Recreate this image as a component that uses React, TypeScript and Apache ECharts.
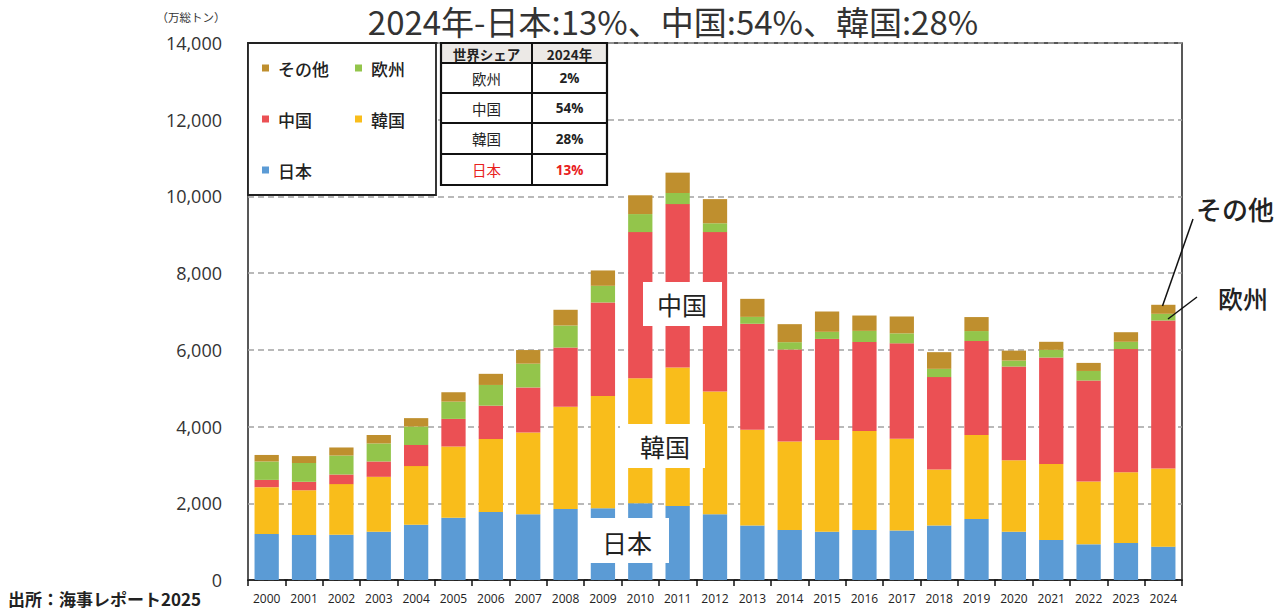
import React, { useEffect, useRef } from 'react';
import * as echarts from 'echarts';

const years = ['2000','2001','2002','2003','2004','2005','2006','2007','2008','2009','2010','2011','2012','2013','2014','2015','2016','2017','2018','2019','2020','2021','2022','2023','2024'];
const japan = [1200,1170,1180,1260,1440,1620,1775,1715,1850,1870,2000,1930,1715,1420,1305,1260,1305,1290,1420,1590,1260,1045,930,965,870];
const korea = [1220,1170,1320,1430,1530,1860,1900,2130,2670,2930,3260,3610,3200,2500,2305,2390,2580,2390,1460,2190,1860,1980,1635,1845,2035];
const china = [190,220,250,400,550,720,870,1175,1540,2435,3810,4260,4155,2760,2400,2635,2320,2490,2410,2450,2445,2775,2635,3210,3860];
const europe = [480,490,495,470,480,450,540,620,575,435,470,290,230,180,190,185,290,260,215,260,155,200,250,190,175];
const other = [170,180,210,220,220,245,290,355,410,400,490,530,630,470,470,530,400,440,435,365,260,210,210,250,235];

const seriesNames = ['日本', '韓国', '中国', '欧州', 'その他'];
const seriesColors = ['#5b9bd5', '#f9bd1b', '#eb5054', '#93c54b', '#bf8f2e'];
const seriesData = [japan, korea, china, europe, other];

const titleText = '2024年-日本:13%、中国:54%、韓国:28%';
const unitText = '（万総トン）';
const sourceText = '出所：海事レポート2025';

const shareRegions = ['欧州', '中国', '韓国', '日本'];
const shareValues = ['2%', '54%', '28%', '13%'];

const FONT = '"Noto Sans CJK JP", "Noto Sans", sans-serif';
const NUMFONT = '"Open Sans", "Noto Sans", sans-serif';

function txt(text: string, x: number, y: number, size: number, opts: any = {}) {
  return {
    type: 'text', x, y, z: 100, silent: true,
    style: {
      text, fill: opts.fill || '#222', fontSize: size, fontFamily: opts.family || FONT,
      fontWeight: opts.weight || 'normal',
      align: opts.align || 'center', textAlign: opts.align || 'center',
      verticalAlign: 'middle', textVerticalAlign: 'middle',
    },
  };
}
function rect(x: number, y: number, w: number, h: number, fill: string, stroke?: string, lw = 0) {
  return {
    type: 'rect', z: 99, silent: true,
    shape: { x, y, width: w, height: h },
    style: { fill, stroke: stroke || 'none', lineWidth: lw },
  };
}
function line(x1: number, y1: number, x2: number, y2: number, lw = 1.5) {
  return { type: 'line', z: 101, silent: true, shape: { x1, y1, x2, y2 }, style: { stroke: '#111', lineWidth: lw } };
}

function buildGraphic() {
  const g: any[] = [];
  g.push(txt(titleText, 673, 21, 33, { fill: '#333' }));
  g.push(txt(unitText, 191, 17, 11.5, { fill: '#333' }));
  g.push(txt(sourceText, 8, 598, 17, { align: 'left', weight: 'bold', fill: '#222' }));

  // legend box
  g.push(rect(248, 43, 188, 152, '#fff', '#222', 1.8));
  const legendItems = [
    { name: 'その他', x: 262, y: 68 },
    { name: '欧州', x: 355, y: 68 },
    { name: '中国', x: 262, y: 119 },
    { name: '韓国', x: 355, y: 119 },
    { name: '日本', x: 262, y: 170 },
  ];
  legendItems.forEach((it) => {
    const idx = seriesNames.indexOf(it.name);
    g.push({ ...rect(it.x, it.y - 3.5, 7, 7, seriesColors[idx]), z: 101 });
    g.push(txt(it.name, it.x + 16, it.y, 17, { align: 'left', weight: 500 }));
  });

  // share table
  const tx = 441, c1 = 532, tr = 607;
  const rowsY = [43, 63, 93, 123, 154, 185];
  g.push(rect(tx, rowsY[0], tr - tx, rowsY[1] - rowsY[0], '#ece9e6'));
  g.push(rect(tx, rowsY[1], tr - tx, rowsY[5] - rowsY[1], '#fff'));
  g.push({ ...rect(tx, 43, tr - tx, 185 - 43, 'none', '#111', 2.2), z: 102 });
  for (let i = 1; i < 5; i++) g.push({ ...line(tx, rowsY[i], tr, rowsY[i], 2), z: 102 });
  g.push({ ...line(c1, 43, c1, 185, 2), z: 102 });
  g.push(txt('世界シェア', (tx + c1) / 2, 53.5, 13.5, { weight: 'bold' }));
  g.push(txt('2024年', (c1 + tr) / 2, 53.5, 13.5, { weight: 'bold' }));
  shareRegions.forEach((r, i) => {
    const cy = (rowsY[i + 1] + rowsY[i + 2]) / 2;
    const fill = r === '日本' ? '#e8201c' : '#222';
    g.push(txt(r, (tx + c1) / 2, cy, 14.5, { fill }));
    g.push(txt(shareValues[i], (c1 + tr) / 2, cy, 13.5, { fill, weight: 'bold', family: NUMFONT }));
  });

  // in-chart labels with white boxes
  g.push(rect(643, 282, 79, 44, '#fff'));
  g.push(txt('中国', 682, 304, 25, { fill: '#222' }));
  g.push(rect(620, 424, 85, 44, '#fff'));
  g.push(txt('韓国', 665, 446, 25, { fill: '#222' }));
  g.push(rect(588, 518, 81, 45, '#fff'));
  g.push(txt('日本', 627, 542, 25, { fill: '#222' }));

  // right annotations
  g.push(txt('その他', 1235, 208, 26, { fill: '#222', weight: 500 }));
  g.push(line(1162.5, 306, 1193, 219));
  g.push(txt('欧州', 1243, 298, 25, { fill: '#222', weight: 500 }));
  g.push(line(1168, 319, 1197, 297));
  return g;
}

export default function App() {
  const ref = useRef<HTMLDivElement>(null);
  useEffect(() => {
    const chart = echarts.init(ref.current!, null, { renderer: 'svg' });
    chart.setOption({
      animation: false,
      backgroundColor: '#fff',
      grid: { left: 248, right: 99, top: 43, bottom: 31, show: true, borderColor: '#222', borderWidth: 1.5, backgroundColor: 'transparent' },
      xAxis: {
        type: 'category',
        data: years,
        axisLine: { show: true, lineStyle: { color: '#111', width: 1.5 } },
        axisTick: { show: true, interval: 0, length: 6, lineStyle: { color: '#111', width: 1.5 } },
        axisLabel: { interval: 0, fontSize: 12, color: '#222', fontFamily: NUMFONT, margin: 12 },
      },
      yAxis: {
        type: 'value',
        min: 0,
        max: 14000,
        interval: 2000,
        axisLine: { show: false },
        axisTick: { show: false },
        axisLabel: {
          fontSize: 18, color: '#333', fontFamily: NUMFONT, margin: 26,
          formatter: (v: number) => v.toLocaleString('en-US'),
        },
        splitLine: { show: true, lineStyle: { color: '#a3a3a3', width: 1.5, type: [6, 4] } },
      },
      series: seriesNames.map((name, i) => ({
        name,
        type: 'bar',
        stack: 'total',
        data: seriesData[i],
        barCategoryGap: '35%',
        itemStyle: { color: seriesColors[i] },
        emphasis: { disabled: true },
      })),
      graphic: buildGraphic(),
    });
    return () => chart.dispose();
  }, []);
  return <div ref={ref} style={{ position: 'absolute', left: 0, top: 0, width: 1281, height: 611, background: '#fff' }} />;
}
